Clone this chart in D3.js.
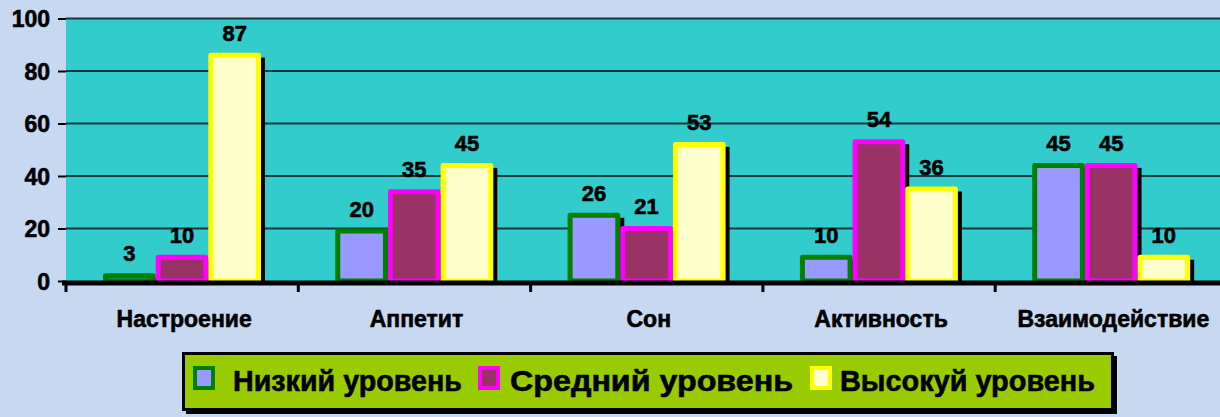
<!DOCTYPE html>
<html><head><meta charset="utf-8">
<script src="https://cdn.jsdelivr.net/npm/d3@7"></script>
<style>
html,body{margin:0;padding:0;background:#c6d9f0;}
svg{display:block;}
text{font-family:"Liberation Sans",Arial,sans-serif;font-weight:bold;fill:#000;stroke:#000;stroke-width:0.6px;}
</style></head>
<body>
<script>
const categories = ["Настроение","Аппетит","Сон","Активность","Взаимодействие"];
const seriesNames = ["Низкий уровень","Средний  уровень","Высокуй уровень"];
const lowValues = [3,20,26,10,45];
const midValues = [10,35,21,54,45];
const highValues = [87,45,53,36,10];
const yTicks = [0,20,40,60,80,100];

const series = [lowValues, midValues, highValues];
const fills = ["#9999ff","#993366","#ffffcc"];
const strokes = ["#008000","#ff00ff","#ffff00"];

const W = 1220, H = 417;
const svg = d3.select("body").append("svg").attr("width",W).attr("height",H);

const left = 66, bandW = 232.3;
const x = d3.scaleBand().domain(categories).range([left, left + bandW*categories.length]).padding(0);
const xi = d3.scaleBand().domain(d3.range(series.length)).range([37, 37+158]).padding(0);
const y = d3.scaleLinear().domain([0,100]).range([281, 18.5]);

// plot area
svg.append("rect").attr("x",left).attr("y",y(100)).attr("width",W-left+20).attr("height",y(0)-y(100)).attr("fill","#33cccc");

// gridlines
svg.append("g").selectAll("line").data(yTicks.filter(d=>d>0)).join("line")
  .attr("x1",left).attr("x2",W+10).attr("y1",d=>y(d)).attr("y2",d=>y(d))
  .attr("stroke","#163a3a").attr("stroke-width",2);

// y axis ticks + labels
const yAxis = d3.axisLeft(y).tickValues(yTicks).tickSize(8).tickPadding(8);
const gy = svg.append("g").attr("transform",`translate(${left},0)`).call(yAxis);
gy.select(".domain").remove();
gy.selectAll(".tick line").attr("stroke","#000").attr("stroke-width",2);
gy.selectAll(".tick text").style("font-size","23px").style("font-family","'Liberation Sans',Arial,sans-serif").style("font-weight","bold").attr("fill","#000").attr("dy","0.36em");

// bars data
const bars = [];
categories.forEach((c,ci)=>{
  series.forEach((s,si)=>{
    bars.push({c, si, v:s[ci]});
  });
});

// shadows
svg.append("g").selectAll("rect").data(bars).join("rect")
  .attr("x",d=>x(d.c)+xi(d.si)+4).attr("y",d=>y(d.v)+5)
  .attr("width",xi.bandwidth()).attr("height",d=>y(0)-y(d.v)-5)
  .attr("fill","#000");

// bars
svg.append("g").selectAll("rect").data(bars).join("rect")
  .attr("x",d=>x(d.c)+xi(d.si)+2.5).attr("y",d=>y(d.v)+2.5)
  .attr("width",xi.bandwidth()-5).attr("height",d=>Math.max(0,y(0)-y(d.v)-2.5))
  .attr("fill",d=>fills[d.si]).attr("stroke",d=>strokes[d.si]).attr("stroke-width",5)
  .attr("stroke-linejoin","round");

// value labels
svg.append("g").selectAll("text").data(bars).join("text")
  .attr("x",d=>x(d.c)+xi(d.si)+xi.bandwidth()/2).attr("y",d=>y(d.v)-12)
  .attr("text-anchor","middle").style("font-size","22px").text(d=>d.v);

// x axis line + ticks
svg.append("line").attr("x1",left-4).attr("x2",W+10).attr("y1",283).attr("y2",283).attr("stroke","#000").attr("stroke-width",5);
const xt = d3.range(categories.length+1).map(i=>left+i*bandW);
svg.append("g").selectAll("line").data(xt).join("line")
  .attr("x1",d=>d).attr("x2",d=>d).attr("y1",283).attr("y2",292).attr("stroke","#000").attr("stroke-width",3);

// category labels
svg.append("g").selectAll("text").data(categories).join("text")
  .attr("x",d=>x(d)+x.bandwidth()/2+2).attr("y",327)
  .attr("text-anchor","middle").style("font-size","23px").text(d=>d);

// legend
const lg = svg.append("g");
lg.append("rect").attr("x",186).attr("y",356).attr("width",931).attr("height",58).attr("fill","#000");
lg.append("rect").attr("x",183.5).attr("y",353.5).attr("width",929).attr("height",56).attr("fill","#99cc00").attr("stroke","#000").attr("stroke-width",3);
const legItems = [
  {mx:193, tx:233, tw:229},
  {mx:478, tx:510, tw:283},
  {mx:810, tx:840, tw:255}
];
seriesNames.forEach((n,i)=>{
  const it = legItems[i];
  lg.append("rect").attr("x",it.mx+2).attr("y",368).attr("width",18).attr("height",20)
    .attr("fill",fills[i]).attr("stroke",strokes[i]).attr("stroke-width",4);
  lg.append("text").attr("x",it.tx).attr("y",391).style("font-size","30px")
    .attr("textLength",it.tw).attr("lengthAdjust","spacingAndGlyphs").text(n);
});
</script>
</body></html>
